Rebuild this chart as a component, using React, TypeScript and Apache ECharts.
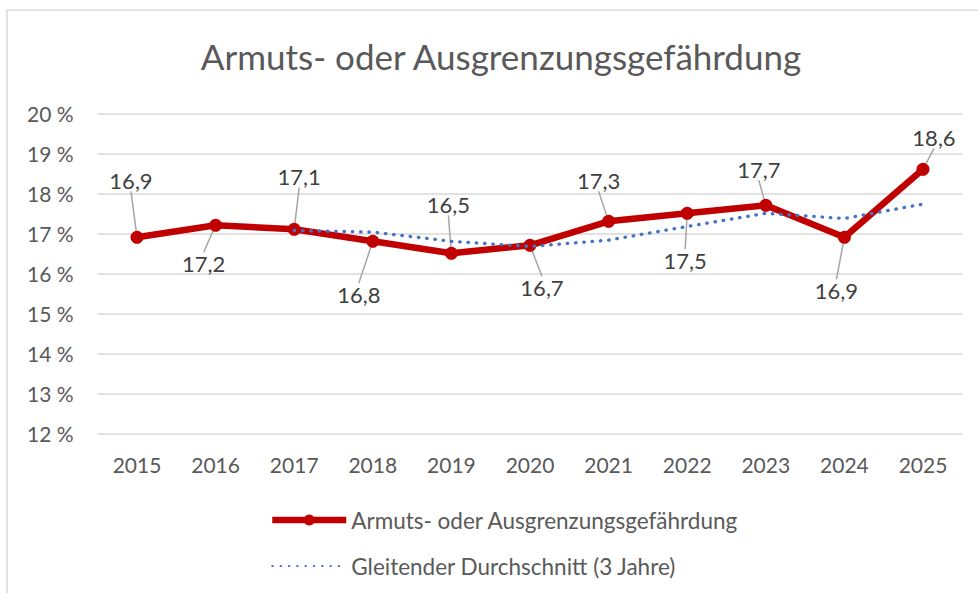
import React, { useEffect, useRef } from "react";
import * as echarts from "echarts";

const TITLE = "Armuts- oder Ausgrenzungsgefährdung";
const YEARS = ["2015", "2016", "2017", "2018", "2019", "2020", "2021", "2022", "2023", "2024", "2025"];
const RATE = [16.9, 17.2, 17.1, 16.8, 16.5, 16.7, 17.3, 17.5, 17.7, 16.9, 18.6];
const MOVING_AVG = [null, null, 17.07, 17.03, 16.8, 16.67, 16.83, 17.17, 17.5, 17.37, 17.73];
const SERIES_NAMES = ["Armuts- oder Ausgrenzungsgefährdung", "Gleitender Durchschnitt (3 Jahre)"];
const Y_MIN = 12;
const Y_MAX = 20;
const Y_STEP = 1;

// label offsets (dx, dy) relative to the point centre — layout only
const LABEL_OFFSETS = [
  [-6, -57], [-12, 38], [5, -53], [-14, 53], [-3, -49], [12, 42],
  [-10, -41], [-2, 47], [-7, -36], [-8, 53], [11, -32],
];

const FONT = "Lato, 'Open Sans', sans-serif";

export default function App() {
  const ref = useRef<HTMLDivElement>(null);
  useEffect(() => {
    if (!ref.current) return;
    const chart = echarts.init(ref.current, null, { renderer: "svg" });
    chart.setOption({
      animation: false,
      backgroundColor: "#ffffff",
      textStyle: { fontFamily: FONT },
      title: {
        text: TITLE,
        left: 501,
        top: 38,
        padding: 0,
        textAlign: "center",
        textStyle: { fontFamily: FONT, fontSize: 35, fontWeight: "normal", color: "#595959" },
      },
      graphic: [
        {
          type: "rect",
          shape: { x: 7, y: 10, width: 1200, height: 1000 },
          style: { fill: "none", stroke: "#d9d9d9", lineWidth: 1.5 },
          silent: true,
        },
      ],
      grid: { left: 97.7, right: 15.7, top: 113.3, bottom: 159.7, containLabel: false },
      xAxis: {
        type: "category",
        data: YEARS,
        boundaryGap: true,
        axisLine: { show: false },
        axisTick: { show: false },
        axisLabel: { fontFamily: FONT, fontSize: 21, color: "#595959", margin: 21 },
      },
      yAxis: {
        type: "value",
        min: Y_MIN,
        max: Y_MAX,
        interval: Y_STEP,
        axisLine: { show: false },
        axisTick: { show: false },
        axisLabel: {
          fontFamily: FONT,
          fontSize: 21,
          color: "#595959",
          margin: 24,
          formatter: (v: number) => `${v} %`,
        },
        splitLine: { lineStyle: { color: "#d9d9d9", width: 1.5 } },
      },
      legend: {
        orient: "vertical",
        left: 264,
        top: 503,
        itemWidth: 74,
        itemHeight: 14,
        itemGap: 22,
        textStyle: { fontFamily: FONT, fontSize: 22.5, color: "#595959", lineHeight: 24 },
        data: [
          { name: SERIES_NAMES[0], lineStyle: { width: 6.5 } },
          { name: SERIES_NAMES[1], itemStyle: { opacity: 0 } },
        ],
      },
      series: [
        {
          name: SERIES_NAMES[0],
          type: "line",
          data: RATE,
          symbol: "circle",
          symbolSize: 13,
          itemStyle: { color: "#C00000" },
          lineStyle: { color: "#C00000", width: 6.5 },
          z: 2,
          label: {
            show: true,
            position: "inside",
            fontFamily: FONT,
            fontSize: 22,
            color: "#404040",
            formatter: (p: any) => String(p.value).replace(".", ","),
          },
          labelLine: { show: true, lineStyle: { color: "#a6a6a6", width: 1.5 } },
          labelLayout: (p: any) => {
            const off = LABEL_OFFSETS[p.dataIndex] || [0, -30];
            const cx = p.rect.x + p.rect.width / 2;
            const cy = p.rect.y + p.rect.height / 2;
            return { x: cx + off[0], y: cy + off[1], align: "center", verticalAlign: "middle" };
          },
        },
        {
          name: SERIES_NAMES[1],
          type: "line",
          data: MOVING_AVG,
          symbol: "none",
          showSymbol: false,
          connectNulls: false,
          itemStyle: { color: "#4472C4" },
          lineStyle: { color: "#4472C4", width: 3.3, type: [0.5, 7.8], cap: "round" },
          z: 3,
        },
      ],
    });
    return () => chart.dispose();
  }, []);
  return (
    <div
      ref={ref}
      style={{ position: "fixed", left: 0, top: 0, width: 978, height: 593 }}
    />
  );
}
